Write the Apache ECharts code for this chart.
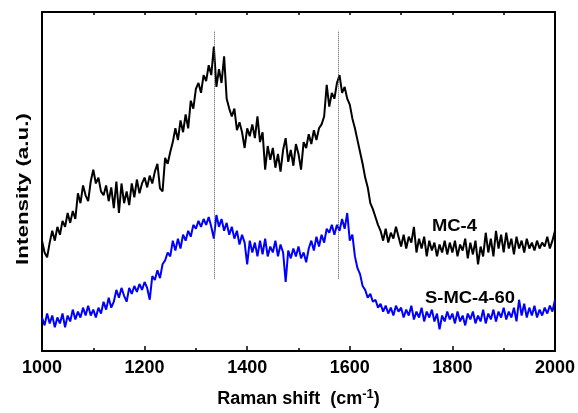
<!DOCTYPE html>
<html>
<head>
<meta charset="utf-8">
<script src="https://cdn.jsdelivr.net/npm/echarts@6/dist/echarts.min.js"></script>
<style>
  html, body { margin: 0; padding: 0; background: #fff; }
  #chart { width: 578px; height: 413px; }
</style>
</head>
<body>
<div id="chart"></div>
<script>
var ramanStart = 1000;
var ramanStep = 5;
var xTicks = [1000, 1200, 1400, 1600, 1800, 2000];
var peakLines = [1335, 1578]; // D and G band guides

var mc4 = [
    112,100,95,110,122,112,126,118,132,126,140,130,142,134,160,150,168,158,152,172,
    184,170,176,162,158,168,152,166,145,172,140,170,150,162,148,170,156,174,160,170,
    176,166,178,170,182,190,165,162,196,190,202,212,226,214,234,222,240,226,254,246,
    266,272,262,280,274,290,280,309,268,286,272,299,256,246,238,246,224,232,222,206,
    226,218,230,216,238,212,222,184,208,194,206,186,200,182,204,216,192,204,188,210,
    200,184,212,206,220,210,224,214,226,230,238,270,248,262,256,272,280,262,268,256,
    250,236,226,214,202,190,176,166,150,144,136,128,122,112,124,110,120,114,126,116,
    106,118,104,116,110,126,100,114,104,116,96,112,102,110,96,108,100,112,98,110,
    100,112,96,108,102,114,94,110,98,112,88,106,96,120,100,114,96,122,104,118,
    100,120,104,114,98,116,104,112,100,114,104,110,102,112,104,110,106,116,104,112,122
];
var smc460 = [
    34,26,38,28,36,24,34,28,38,24,36,30,42,32,40,34,44,36,46,36,
    42,34,44,38,50,42,54,44,50,62,54,64,56,50,64,58,66,60,68,62,
    70,64,52,76,72,82,74,88,92,100,96,112,102,114,104,118,112,122,116,128,
    124,132,126,134,128,136,126,114,138,126,134,122,130,118,126,114,122,108,118,110,
    88,112,100,110,96,112,98,114,96,106,100,112,96,108,100,70,102,94,104,96,
    106,94,100,90,104,112,102,116,106,118,110,124,120,128,118,128,122,134,124,140,
    112,118,96,84,78,66,62,54,58,50,52,44,48,40,46,38,44,36,46,40,
    44,34,42,36,46,32,40,34,44,30,40,34,42,30,38,22,36,30,40,32,
    38,28,40,30,36,26,38,32,40,28,36,30,42,28,38,32,42,30,40,34,
    44,32,40,34,44,30,52,36,48,34,44,36,46,34,42,36,44,38,46,40,52
];

function toPairs(vals) {
    var out = [];
    for (var i = 0; i < vals.length; i++) {
        out.push([ramanStart + i * ramanStep, vals[i]]);
    }
    return out;
}

var myChart = echarts.init(document.getElementById('chart'));
var font = 'Liberation Sans, Arial, sans-serif';

var guideData = [];
for (var k = 0; k < peakLines.length; k++) {
    guideData.push([{ coord: [peakLines[k], 324] }, { coord: [peakLines[k], 73] }]);
}

var option = {
    animation: false,
    grid: { left: 42, right: 22, top: 12, bottom: 57 },
    xAxis: [{
        type: 'value',
        min: 1000, max: 2000, interval: 200,
        name: 'Raman shift  (cm{sup|-1})',
        nameLocation: 'middle',
        nameGap: 37,
        nameTextStyle: {
            color: '#000', fontFamily: font, fontWeight: 'bold', fontSize: 18,
            rich: { sup: { fontSize: 13, fontWeight: 'bold', fontFamily: font, verticalAlign: 'top', padding: [0, 0, 9, 0] } }
        },
        axisLine: { show: true, onZero: false, lineStyle: { color: '#000', width: 2 } },
        axisTick: { show: true, inside: true, length: 5, lineStyle: { color: '#000', width: 1.5 } },
        minorTick: { show: true, splitNumber: 2, length: 3, lineStyle: { color: '#000', width: 1.5 } },
        axisLabel: { color: '#000', fontFamily: font, fontWeight: 'bold', fontSize: 18, margin: 8,
            formatter: function (v) { return xTicks.indexOf(v) >= 0 ? v : ''; } },
        splitLine: { show: false }
    }, {
        type: 'value',
        position: 'top',
        min: 1000, max: 2000, interval: 100,
        axisLine: { show: true, onZero: false, lineStyle: { color: '#000', width: 2 } },
        axisTick: { show: true, inside: true, length: 3, lineStyle: { color: '#000', width: 1.5 } },
        axisLabel: { show: false },
        splitLine: { show: false }
    }],
    yAxis: [{
        type: 'value',
        min: 0, max: 344,
        axisLine: { show: true, onZero: false, lineStyle: { color: '#000', width: 2 } },
        axisTick: { show: false },
        axisLabel: { show: false },
        splitLine: { show: false }
    }, {
        type: 'value',
        position: 'right',
        min: 0, max: 344,
        axisLine: { show: true, onZero: false, lineStyle: { color: '#000', width: 2 } },
        axisTick: { show: false },
        axisLabel: { show: false },
        splitLine: { show: false }
    }],
    series: [{
        name: 'MC-4',
        type: 'line',
        data: toPairs(mc4),
        showSymbol: false,
        lineStyle: { color: '#000', width: 2 },
        markLine: {
            silent: true,
            symbol: ['none', 'none'],
            label: { show: false },
            lineStyle: { color: '#555', type: 'dotted', width: 1 },
            data: guideData
        },
        z: 3
    }, {
        name: 'S-MC-4-60',
        type: 'line',
        data: toPairs(smc460),
        showSymbol: false,
        lineStyle: { color: '#0000ff', width: 2 },
        z: 3
    }],
    graphic: [{
        // y axis title, stretched along its length like the original
        type: 'text', x: 24, y: 189, rotation: Math.PI / 2, scaleX: 1.4,
        style: { text: 'Intensity (a.u.)', fill: '#000', font: 'bold 16px ' + font,
            textAlign: 'center', textVerticalAlign: 'middle' }
    }, {
        type: 'text', x: 432, y: 227, scaleX: 1.15,
        style: { text: 'MC-4', fill: '#000', font: 'bold 16px ' + font,
            textAlign: 'left', textVerticalAlign: 'middle' }
    }, {
        type: 'text', x: 425, y: 299, scaleX: 1.15,
        style: { text: 'S-MC-4-60', fill: '#000', font: 'bold 16px ' + font,
            textAlign: 'left', textVerticalAlign: 'middle' }
    }]
};
myChart.setOption(option);
</script>
</body>
</html>
